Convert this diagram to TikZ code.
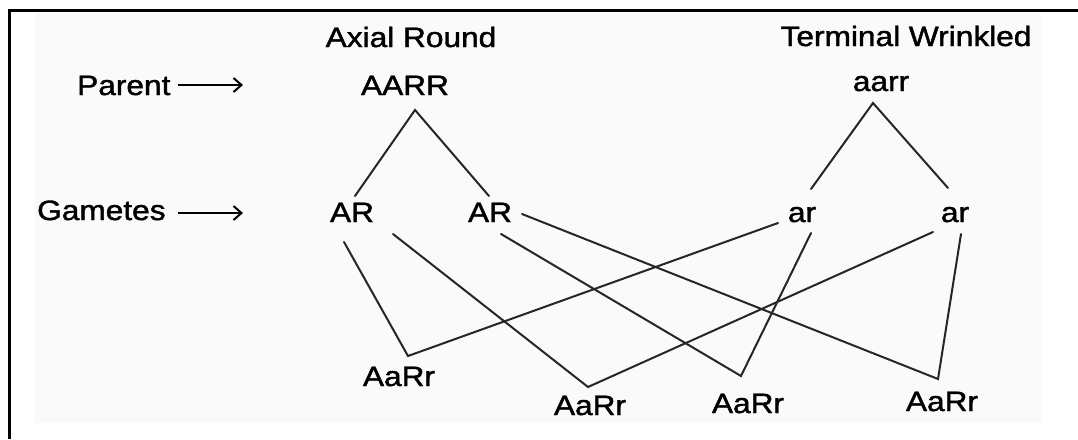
\documentclass[tikz,border=0pt]{standalone}
\usepackage{fontspec}
\setmainfont{Liberation Sans}
\newfontfamily\diagfont{Liberation Sans}[RawFeature={embolden=1.4}]
\usetikzlibrary{calc,arrows.meta}
\newcommand\hstretch[1]{\scalebox{1.13}[1]{#1}}
\tikzset{
  txt/.style={inner sep=0pt, anchor=base, font=\fontsize{28}{30}\diagfont},
  link/.style={line width=2pt, draw=black!85, line cap=round},
  arr/.style={line width=2pt, -{Straight Barb[length=8pt,width=14pt,line width=2pt]}},
}
\begin{document}
\begin{tikzpicture}[x=1pt,y=-1pt]
\useasboundingbox (0,0) rectangle (1078,439);
% scanned page background and frame
\fill[black!2] (35,13) rectangle (1041,423);
\draw[line width=3pt] (8,10) -- (1078,10);
\draw[line width=3pt] (9,10) -- (9,439);

% labels
\node[txt] (ax) at (411,47) {\hstretch{Axial Round}};
\node[txt] (tw) at (906,46) {\hstretch{Terminal Wrinkled}};
\node[txt,anchor=base west] (Parent) at (77,95) {\hstretch{Parent}};
\node[txt,anchor=base west] (Gametes) at (37,220) {\hstretch{Gametes}};

% genotypes
\node[txt] (AARR) at (405,95) {\hstretch{AARR}};
\node[txt] (aarr) at (881,91) {\hstretch{aarr}};
\node[txt] (AR1) at (352,222) {\hstretch{AR}};
\node[txt] (AR2) at (490,222) {\hstretch{AR}};
\node[txt] (ar1) at (802,222) {\hstretch{ar}};
\node[txt] (ar2) at (955,222) {\hstretch{ar}};
\node[txt] (F1) at (399,386) {\hstretch{AaRr}};
\node[txt] (F2) at (590,415) {\hstretch{AaRr}};
\node[txt] (F3) at (748,413) {\hstretch{AaRr}};
\node[txt] (F4) at (942,411) {\hstretch{AaRr}};

% arrow ends
\coordinate (parr) at (243,85);
\coordinate (garr) at (243,213);
\draw[arr] ([xshift=7pt]Parent.east |- parr) -- (parr);
\draw[arr] ([xshift=12pt]Gametes.east |- garr) -- (garr);

% connection points
\coordinate (AARRb) at ($(AARR.base)+(10,15)$);
\coordinate (AR1t) at ($(AR1.base)+(3,-26)$);
\coordinate (AR1a) at ($(AR1.base)+(-8,20)$);
\coordinate (AR1b) at ($(AR1.base)+(41,12)$);
\coordinate (AR2t) at ($(AR2.base)+(-1,-26)$);
\coordinate (AR2a) at ($(AR2.base)+(11,12)$);
\coordinate (AR2b) at ($(AR2.base)+(32,-8)$);
\coordinate (aarrb) at ($(aarr.base)+(-8,12)$);
\coordinate (ar1t) at ($(ar1.base)+(9,-33)$);
\coordinate (ar1a) at ($(ar1.base)+(-24,1)$);
\coordinate (ar1b) at ($(ar1.base)+(9,11)$);
\coordinate (ar2t) at ($(ar2.base)+(-7,-34)$);
\coordinate (ar2a) at ($(ar2.base)+(-22,10)$);
\coordinate (ar2b) at ($(ar2.base)+(6,12)$);
\coordinate (F1t) at ($(F1.base)+(9,-30)$);
\coordinate (F2t) at ($(F2.base)+(-2,-28)$);
\coordinate (F3t) at ($(F3.base)+(-7,-37)$);
\coordinate (F4t) at ($(F4.base)+(-4,-32)$);

% parents to gametes
\draw[link] (AR1t) -- (AARRb) -- (AR2t);
\draw[link] (ar1t) -- (aarrb) -- (ar2t);
% gametes to offspring
\draw[link] (AR1a) -- (F1t) -- (ar1a);
\draw[link] (AR1b) -- (F2t) -- (ar2a);
\draw[link] (AR2a) -- (F3t) -- (ar1b);
\draw[link] (AR2b) -- (F4t) -- (ar2b);
\end{tikzpicture}
\end{document}
